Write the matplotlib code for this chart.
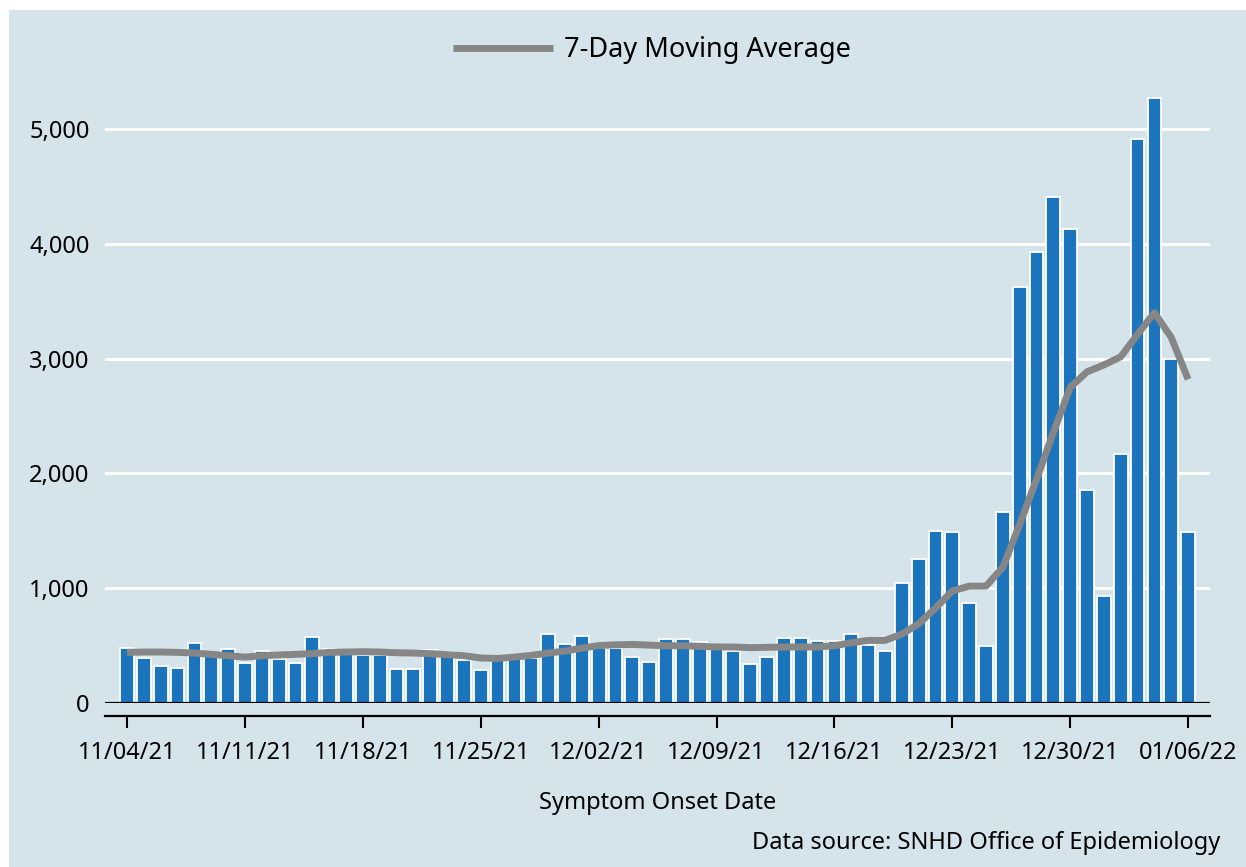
import numpy as np
import pandas as pd
import matplotlib
matplotlib.use('Agg')
import matplotlib.pyplot as plt
from matplotlib.patches import Rectangle

plt.rcParams['font.family'] = ['Noto Sans', 'DejaVu Sans']

# daily cases by symptom onset date, 11/04/21 .. 01/06/22
dates = pd.date_range('2021-11-04', '2022-01-06', freq='D')
cases = [476, 389, 320, 305, 520, 430, 468, 351, 453, 380,
         346, 572, 470, 430, 418, 418, 300, 300, 462, 440,
         375, 287, 410, 400, 392, 598, 511, 587, 480, 476,
         403, 357, 555, 555, 529, 500, 453, 343, 403, 563,
         563, 537, 543, 598, 502, 455, 1045, 1255, 1500, 1490,
         870, 500, 1665, 3628, 3930, 4410, 4127, 1856, 930, 2165,
         4912, 5272, 2995, 1490]
# 7-day moving average as drawn
moving_avg = [441, 444, 444, 441, 435, 424, 412, 400, 412, 418,
              424, 430, 441, 444, 447, 444, 438, 435, 430, 421,
              412, 392, 388, 400, 415, 435, 452, 478, 500, 507,
              510, 504, 499, 499, 493, 488, 488, 482, 485, 488,
              488, 488, 499, 525, 545, 545, 600, 690, 826, 976,
              1018, 1018, 1182, 1556, 1948, 2357, 2749, 2885, 2945, 3016,
              3212, 3400, 3184, 2820]
tick_labels = ['11/04/21', '11/11/21', '11/18/21', '11/25/21', '12/02/21',
               '12/09/21', '12/16/21', '12/23/21', '12/30/21', '01/06/22']
yticks = [0, 1000, 2000, 3000, 4000, 5000]

bg = '#d5e3eb'
W, H = 1246, 867
fig = plt.figure(figsize=(W / 100, H / 100), dpi=100, facecolor='white')
fig.patches.append(Rectangle((9 / W, 0), 1, 1 - 10 / H, transform=fig.transFigure,
                             facecolor=bg, edgecolor='none', zorder=-10))

ax = fig.add_axes([105 / W, (H - 703) / H, 1105 / W, 613 / H])
ax.set_facecolor(bg)
ax.patch.set_alpha(0)

x = np.arange(len(dates))
ax.bar(x, cases, width=0.82, color='#1c75bc', edgecolor='white', linewidth=1.3, zorder=3)
ax.plot(x, moving_avg, color='#868686', lw=5, zorder=4, solid_capstyle='butt',
        label='7-Day Moving Average')
ax.axhline(0, color='black', lw=1.6, zorder=5)

ax.set_xlim(-1.31, 64.3)
ax.set_ylim(0, 5340)
ax.set_yticks(yticks)
ax.set_yticklabels([f'{v:,}' for v in yticks])
ax.grid(axis='y', color='white', lw=2.2, zorder=1)
ax.set_axisbelow(True)
ax.tick_params(axis='y', length=0, pad=11, labelsize=17)

ax.set_xticks(x[::7])
ax.set_xticklabels(tick_labels)
ax.tick_params(axis='x', direction='out', length=8.5, width=1.5, pad=9.5, labelsize=17)

for s in ['left', 'right', 'top']:
    ax.spines[s].set_visible(False)
ax.spines['bottom'].set_position(('outward', 9.4))
ax.spines['bottom'].set_linewidth(1.6)

ax.set_xlabel('Symptom Onset Date', fontsize=17, labelpad=19)

fig.legend(loc='center', bbox_to_anchor=(652 / W, 1 - 50 / H), frameon=False,
           fontsize=19.5, handlelength=3.7, handletextpad=0.4)
fig.text(1220 / W, 1 - 843 / H, 'Data source: SNHD Office of Epidemiology',
         ha='right', va='center', fontsize=17)

fig.savefig('out.png', dpi=100, facecolor='white')
